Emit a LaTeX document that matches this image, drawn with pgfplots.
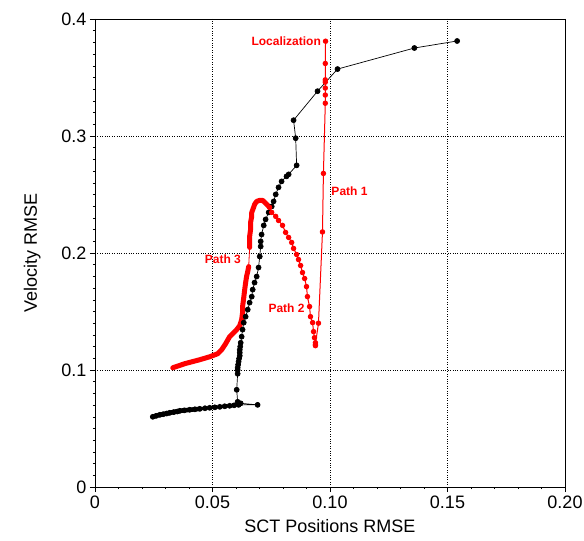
\documentclass[border=0pt]{standalone}
\usepackage{fontspec}
\setmainfont{Liberation Sans}
\usepackage{pgfplots}
\pgfplotsset{compat=1.18}
\definecolor{pred}{RGB}{255,0,0}
\begin{document}
\begin{tikzpicture}
\begin{axis}[
  name=ax,
  scale only axis,
  width=470pt, height=468pt,
  xmin=0, xmax=0.2, ymin=0, ymax=0.4,
  xtick={0,0.05,0.1,0.15,0.2},
  xticklabels={0,0.05,0.10,0.15,0.20},
  ytick={0,0.1,0.2,0.3,0.4},
  yticklabels={0,0.1,0.2,0.3,0.4},
  minor x tick num=4,
  minor y tick num=9,
  tick align=outside,
  major tick length=5pt,
  minor tick length=2pt,
  tick style={black, line width=0.5pt},
  xtick pos=bottom, ytick pos=left,
  grid=major,
  major grid style={black, dotted, line width=0.7pt},
  axis line style={line width=0.8pt},
  ticklabel style={font=\fontsize{18}{21}\selectfont},
  /pgf/number format/assume math mode=true,
  xlabel={SCT Positions RMSE},
  ylabel={Velocity RMSE},
  label style={font=\fontsize{18}{21}\selectfont},
  xlabel style={yshift=-4pt},
  ylabel style={yshift=14pt},
  clip=false,
]
% black band (thick)
\addplot[black, line width=4.5pt, line cap=round] coordinates {
(0.0246,0.0600) (0.0276,0.0617) (0.0318,0.0634) (0.0361,0.0651) (0.0403,0.0660) (0.0446,0.0668)
};
\addplot[black, line width=3pt, line cap=round] coordinates {
(0.0446,0.0668) (0.0488,0.0677) (0.0531,0.0685) (0.0573,0.0694) (0.0611,0.0702)
};
% black path
\addplot[black, line width=0.7pt, mark=*, mark size=2.5pt] coordinates {
(0.0246,0.0600) (0.0260,0.0608) (0.0276,0.0617) (0.0290,0.0622) (0.0305,0.0628)
(0.0318,0.0634) (0.0335,0.0640) (0.0350,0.0645) (0.0361,0.0651) (0.0380,0.0655)
(0.0403,0.0660) (0.0425,0.0664) (0.0446,0.0668) (0.0468,0.0673) (0.0488,0.0677)
(0.0510,0.0681) (0.0531,0.0685) (0.0552,0.0690) (0.0573,0.0694) (0.0592,0.0698)
(0.0611,0.0702) (0.0692,0.0702) (0.0620,0.0715) (0.0607,0.0728) (0.0603,0.0831)
(0.0607,0.0968) (0.0607,0.1000) (0.0607,0.1019) (0.0609,0.1045) (0.0611,0.1071)
(0.0613,0.1097) (0.0616,0.1122) (0.0616,0.1148) (0.0616,0.1173) (0.0618,0.1200)
(0.0620,0.1233) (0.0624,0.1285) (0.0628,0.1345) (0.0633,0.1405) (0.0641,0.1456)
(0.0650,0.1516) (0.0658,0.1576) (0.0667,0.1627) (0.0671,0.1687) (0.0679,0.1747)
(0.0688,0.1799) (0.0696,0.1876) (0.0701,0.1970) (0.0705,0.2056) (0.0705,0.2099)
(0.0709,0.2158) (0.0718,0.2236) (0.0726,0.2287) (0.0739,0.2347) (0.0752,0.2398)
(0.0760,0.2441) (0.0769,0.2501) (0.0781,0.2561) (0.0794,0.2612) (0.0815,0.2655)
(0.0824,0.2672) (0.0858,0.2749) (0.0854,0.2981) (0.0845,0.3135) (0.0947,0.3383)
(0.1032,0.3572) (0.1359,0.3752) (0.1541,0.3812)
};
% Path 1
\addplot[pred, line width=1pt, mark=*, mark size=2.2pt] coordinates {
(0.0938,0.1220) (0.0951,0.1400) (0.0968,0.2180) (0.0972,0.2680) (0.0980,0.3280)
(0.0980,0.3350) (0.0980,0.3410) (0.0980,0.3460) (0.0980,0.3480) (0.0980,0.3620)
(0.0981,0.3810)
};
% Path 3 (thick)
\addplot[pred, line width=5pt, line cap=round, line join=round] coordinates {
(0.0331,0.1019) (0.0382,0.1054) (0.0446,0.1088) (0.0488,0.1113) (0.0522,0.1139)
(0.0539,0.1173) (0.0556,0.1225) (0.0573,0.1285) (0.0603,0.1345) (0.0616,0.1379)
(0.0624,0.1430) (0.0628,0.1490) (0.0628,0.1542) (0.0633,0.1619) (0.0637,0.1687)
(0.0641,0.1747) (0.0645,0.1799) (0.0650,0.1842) (0.0654,0.1884)
};
\addplot[pred, line width=0.8pt] coordinates {
(0.0654,0.1884) (0.0658,0.2047)
};
\addplot[pred, line width=5pt, line cap=round, line join=round] coordinates {
(0.0658,0.2047) (0.0658,0.2099) (0.0658,0.2141) (0.0662,0.2201) (0.0662,0.2261)
(0.0667,0.2313) (0.0667,0.2347) (0.0675,0.2390) (0.0679,0.2415) (0.0688,0.2441)
(0.0701,0.2450) (0.0713,0.2450) (0.0722,0.2433) (0.0735,0.2407) (0.0743,0.2390)
};
% Path 2
\addplot[pred, line width=1pt, mark=*, mark size=2.2pt] coordinates {
(0.0743,0.2390) (0.0752,0.2347) (0.0769,0.2313) (0.0781,0.2278) (0.0798,0.2236)
(0.0811,0.2176) (0.0824,0.2133) (0.0837,0.2090) (0.0845,0.2039) (0.0858,0.1987)
(0.0866,0.1944) (0.0875,0.1893) (0.0883,0.1833) (0.0892,0.1782) (0.0900,0.1713)
(0.0904,0.1627) (0.0913,0.1542) (0.0917,0.1456) (0.0926,0.1405) (0.0930,0.1328)
(0.0934,0.1276) (0.0938,0.1233) (0.0938,0.1208)
};
\begin{scope}[every node/.style={text=pred, font=\bfseries\fontsize{12}{14}\selectfont, inner sep=0pt}]
\node[anchor=east] at (axis cs:0.0962,0.381) {Localization};
\node at (axis cs:0.1083,0.2527) {Path 1};
\node at (axis cs:0.0815,0.1525) {Path 2};
\node at (axis cs:0.0544,0.1944) {Path 3};
\end{scope}
\end{axis}
\pgfresetboundingbox
\path ([shift={(-95pt,-54pt)}]ax.south west) rectangle ([shift={(19pt,19pt)}]ax.north east);
\end{tikzpicture}
\end{document}
